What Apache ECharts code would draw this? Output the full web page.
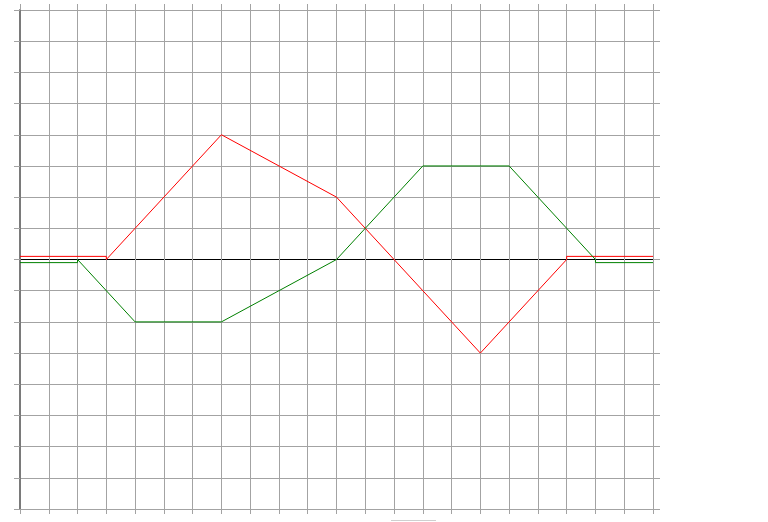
<!DOCTYPE html>
<html>
<head>
<meta charset="utf-8">
<script src="https://cdn.jsdelivr.net/npm/echarts@6/dist/echarts.min.js"></script>
<style>
html,body{margin:0;padding:0;background:#fff;}
#chart{width:768px;height:522px;}
</style>
</head>
<body>
<div id="chart"></div>
<script>
// Data
var redX   = [0, 3, 3, 7, 11, 16, 19, 19, 22];
var redY   = [0.1, 0.1, 0, 4, 2, -3, 0, 0.1, 0.1];
var greenX = [0, 2, 2, 4, 7, 11, 14, 17, 20, 20, 22];
var greenY = [-0.1, -0.1, 0, -2, -2, 0, 3, 3, 0, -0.1, -0.1];
var xMin = 0, xMax = 22, yMin = -8, yMax = 8;

function pairs(xs, ys) { return xs.map(function (x, i) { return [x, ys[i]]; }); }

var gridColor = '#a3a3a3';
var ySplitColors = [];
for (var v = yMin; v <= yMax; v++) { ySplitColors.push(v === 0 ? '#000000' : gridColor); }

var chart = echarts.init(document.getElementById('chart'));
chart.setOption({
  animation: false,
  backgroundColor: '#ffffff',
  grid: { left: 20, right: 115, top: 10, bottom: 13 },
  xAxis: [
    {
      type: 'value', position: 'bottom', min: xMin, max: xMax, interval: 1,
      axisLine: { show: false, onZero: false },
      axisTick: { show: true, length: 5, lineStyle: { color: gridColor } },
      axisLabel: { show: false },
      splitLine: { show: true, lineStyle: { color: gridColor, width: 1 } }
    },
    {
      type: 'value', position: 'top', min: xMin, max: xMax, interval: 1,
      axisLine: { show: false, onZero: false },
      axisTick: { show: true, length: 6, lineStyle: { color: gridColor } },
      axisLabel: { show: false },
      splitLine: { show: false }
    }
  ],
  yAxis: [
    {
      type: 'value', position: 'left', min: yMin, max: yMax, interval: 1,
      axisLine: { show: true, onZero: false, lineStyle: { color: '#7a7a7a', width: 2 } },
      axisTick: { show: true, length: 6, lineStyle: { color: gridColor } },
      axisLabel: { show: false },
      splitLine: { show: true, lineStyle: { color: ySplitColors, width: 1 } }
    },
    {
      type: 'value', position: 'right', min: yMin, max: yMax, interval: 1,
      axisLine: { show: false, onZero: false },
      axisTick: { show: true, length: 7, lineStyle: { color: gridColor } },
      axisLabel: { show: false },
      splitLine: { show: false }
    }
  ],
  graphic: [
    { type: 'rect', left: 391, top: 520, shape: { width: 45, height: 1 }, style: { fill: '#cfcfcf' } }
  ],
  series: [
    {
      type: 'line', data: pairs(redX, redY), showSymbol: false, symbol: 'none',
      lineStyle: { color: '#ff0000', width: 1 }, itemStyle: { color: '#ff0000' }, z: 3
    },
    {
      type: 'line', data: pairs(greenX, greenY), showSymbol: false, symbol: 'none',
      lineStyle: { color: '#008000', width: 1 }, itemStyle: { color: '#008000' }, z: 3
    }
  ]
});
</script>
</body>
</html>
